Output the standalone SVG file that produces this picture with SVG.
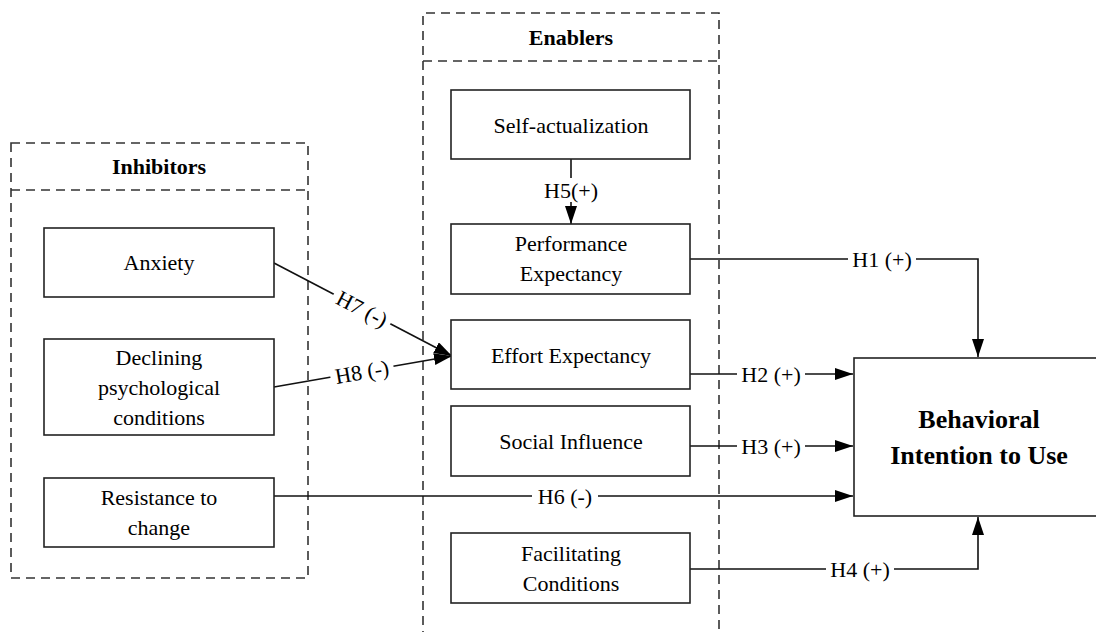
<svg xmlns="http://www.w3.org/2000/svg" width="1096" height="632" viewBox="0 0 1096 632">
<style>
.grp{fill:none;stroke:#333;stroke-width:1.6;stroke-dasharray:9 6}
.box{fill:#fff;stroke:#222;stroke-width:1.6}
text{font-family:'Liberation Serif','DejaVu Serif',serif;font-size:22px;fill:#000;text-anchor:middle;dominant-baseline:central}
.h{font-weight:bold}
.big{font-size:26px}
.c{fill:none;stroke:#111;stroke-width:1.6}
.bg{fill:#fff}
</style>
<defs>
<marker id="ah" viewBox="0 0 18 12" refX="18" refY="6" markerWidth="18" markerHeight="12" markerUnits="userSpaceOnUse" orient="auto">
<path d="M0,0 L18,6 L0,12 Z" fill="#000"/>
</marker>
</defs>
<rect width="1096" height="632" fill="#fff"/>

<g id="inhibitors">
<rect class="grp" x="11" y="143" width="297" height="435"/>
<line class="grp" x1="11" y1="190" x2="308" y2="190"/>
<text class="h" x="159" y="166">Inhibitors</text>
</g>
<g id="enablers">
<path class="grp" d="M423,640 L423,13 L719,13 L719,640"/>
<line class="grp" x1="423" y1="61" x2="719" y2="61"/>
<text class="h" x="571" y="37">Enablers</text>
</g>

<g id="connectors">
<line class="c" x1="571" y1="159" x2="571" y2="224" marker-end="url(#ah)"/>
<polyline class="c" points="690,259 978,259 978,357" marker-end="url(#ah)"/>
<line class="c" x1="690" y1="374" x2="853" y2="374" marker-end="url(#ah)"/>
<line class="c" x1="690" y1="446" x2="853" y2="446" marker-end="url(#ah)"/>
<line class="c" x1="274" y1="496" x2="853" y2="496" marker-end="url(#ah)"/>
<polyline class="c" points="690,569 978,569 978,517" marker-end="url(#ah)"/>
<line class="c" x1="274" y1="263" x2="452" y2="356" marker-end="url(#ah)"/>
<line class="c" x1="274" y1="387" x2="452" y2="356" marker-end="url(#ah)"/>

<rect class="bg" x="540" y="178" width="62" height="24"/>
<text x="571" y="190">H5(+)</text>
<rect class="bg" x="848" y="247" width="68" height="24"/>
<text x="882" y="259">H1 (+)</text>
<rect class="bg" x="737" y="362" width="68" height="24"/>
<text x="771" y="374">H2 (+)</text>
<rect class="bg" x="737" y="434" width="68" height="24"/>
<text x="771" y="446">H3 (+)</text>
<rect class="bg" x="532" y="484" width="66" height="24"/>
<text x="565" y="496">H6 (-)</text>
<rect class="bg" x="826" y="557" width="68" height="24"/>
<text x="860" y="569">H4 (+)</text>
<g transform="translate(362,309) rotate(27.6)">
<rect class="bg" x="-32" y="-11" width="64" height="22"/>
<text x="0" y="0">H7 (-)</text>
</g>
<g transform="translate(362,372) rotate(-9.9)">
<rect class="bg" x="-32" y="-11" width="64" height="22"/>
<text x="0" y="0">H8 (-)</text>
</g>
</g>

<g id="anxiety">
<rect class="box" x="44" y="228" width="230" height="69"/>
<text x="159" y="262">Anxiety</text>
</g>
<g id="declining">
<rect class="box" x="44" y="339" width="230" height="96"/>
<text x="159" y="357">Declining</text>
<text x="159" y="387">psychological</text>
<text x="159" y="417">conditions</text>
</g>
<g id="resistance">
<rect class="box" x="44" y="478" width="230" height="69"/>
<text x="159" y="497">Resistance to</text>
<text x="159" y="527">change</text>
</g>
<g id="self-actualization">
<rect class="box" x="451" y="90" width="239" height="69"/>
<text x="571" y="125">Self-actualization</text>
</g>
<g id="performance">
<rect class="box" x="451" y="224" width="239" height="70"/>
<text x="571" y="243">Performance</text>
<text x="571" y="273">Expectancy</text>
</g>
<g id="effort">
<rect class="box" x="451" y="320" width="239" height="69"/>
<text x="571" y="355">Effort Expectancy</text>
</g>
<g id="social">
<rect class="box" x="451" y="406" width="239" height="70"/>
<text x="571" y="441">Social Influence</text>
</g>
<g id="facilitating">
<rect class="box" x="451" y="533" width="239" height="70"/>
<text x="571" y="553">Facilitating</text>
<text x="571" y="583">Conditions</text>
</g>
<g id="behavioral">
<rect class="box" x="854" y="358" width="250" height="158"/>
<text class="h big" x="979" y="419">Behavioral</text>
<text class="h big" x="979" y="455">Intention to Use</text>
</g>
</svg>
